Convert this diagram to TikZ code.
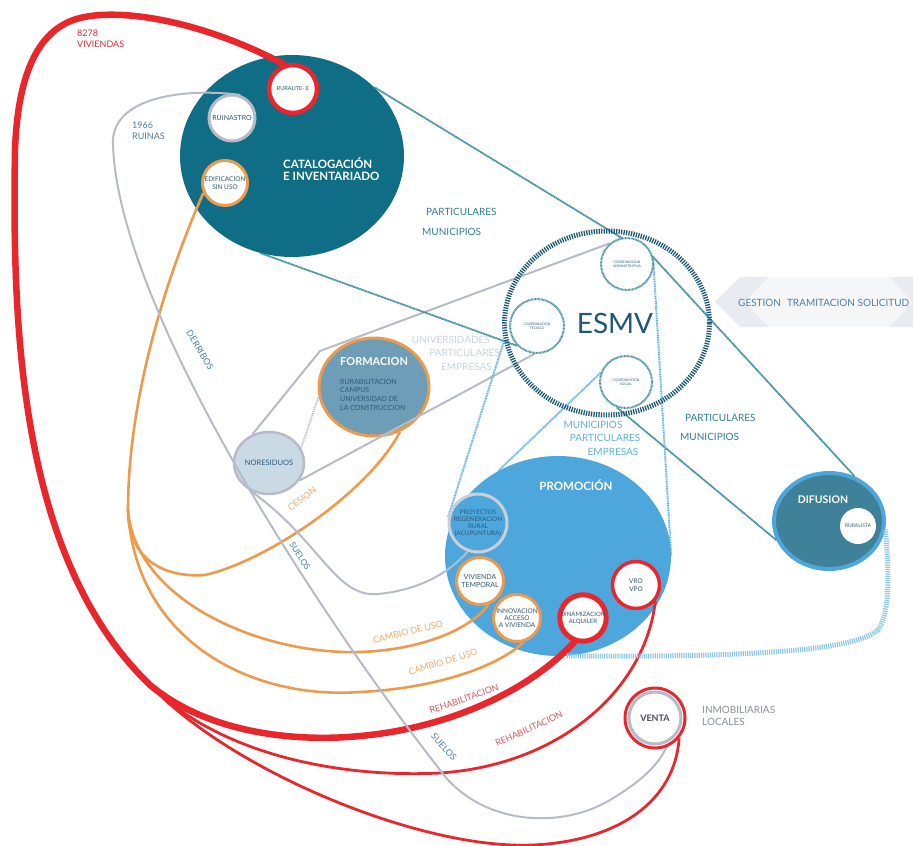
\documentclass[tikz,border=0pt]{standalone}
\usepackage{fontspec}
\setmainfont{Lato}
\usetikzlibrary{shapes.geometric}
\pgfdeclarelayer{back}
\pgfdeclarelayer{lines}
\pgfsetlayers{back,lines,main}
\newcommand{\myfs}[2]{\fontsize{#1}{#2}\selectfont}
\definecolor{catc}{HTML}{0F6E85}
\definecolor{redc}{HTML}{E8262C}
\definecolor{orc}{HTML}{EE9A4D}
\definecolor{orlab}{HTML}{F0A868}
\definecolor{redlab}{HTML}{E8505A}
\definecolor{grc}{HTML}{B7BBC7}
\definecolor{promc}{HTML}{4DA6DC}
\definecolor{difc}{HTML}{3E8199}
\definecolor{formc}{HTML}{6D9DB7}
\definecolor{norc}{HTML}{C9DAE4}
\definecolor{txtc}{HTML}{2C5B7A}
\definecolor{labc}{HTML}{4E7FA0}
\definecolor{esmvc}{HTML}{1E5874}
\definecolor{tealc}{HTML}{3C8C9E}
\definecolor{lbc}{HTML}{5DB0E2}
\definecolor{ropec}{HTML}{8CC6EA}
\definecolor{palec}{HTML}{C6D5E0}
\definecolor{labteal}{HTML}{2F7F96}
\definecolor{chevc}{HTML}{E8EBF0}
\definecolor{chevm}{HTML}{F5F6F8}
\definecolor{inmoc}{HTML}{8A8E99}
\definecolor{ventc}{HTML}{4A4E57}
\begin{document}
\begin{tikzpicture}[x=1pt,y=-1pt,
 bigell/.style={ellipse,inner sep=0pt},
 smc/.style={circle,inner sep=0pt,minimum size=#1,fill=white,text=txtc,align=center},
 coordc/.style={circle,inner sep=0pt,minimum size=#1,draw=tealc,line width=2pt,dash pattern=on 0.8pt off 0.6pt,fill=white,text=txtc,align=center,font=\myfs{3.4}{4.2}},
 redthick/.style={draw=redc,line width=6.5pt,line cap=round},
 redthin/.style={draw=redc,line width=2.8pt},
 orline/.style={draw=orc,line width=2.6pt},
 grline/.style={draw=grc,line width=2pt},
 tealline/.style={draw=tealc,line width=1.8pt,dash pattern=on 1.2pt off 0.5pt},
 lbline/.style={draw=lbc,line width=2pt,dash pattern=on 1pt off 0.7pt},
 rope/.style={draw=ropec,line width=5pt,dash pattern=on 1.2pt off 1pt},
 lab/.style={inner sep=0pt,font=\myfs{9}{11}},
 labb/.style={inner sep=0pt,font=\myfs{10}{12}},
]
\useasboundingbox (0,0) rectangle (913,846);

% ---------- background layer: band and big ellipses ----------
\begin{pgfonlayer}{back}
 \fill[chevm] (715,302) -- (740,277) -- (913,277) -- (913,327) -- (740,327) -- cycle;
 \fill[chevc] (715,302) -- (740,277) -- (768,277) -- (745,302) -- (768,327) -- (740,327) -- cycle;
 \fill[chevc] (890,277) -- (913,277) -- (913,327) -- (890,327) -- (912,302) -- cycle;
 \node[bigell,fill=catc,minimum width=224,minimum height=202] (cat) at (292,156) {};
 \node[bigell,fill=promc,minimum width=226,minimum height=200] (prom) at (558,556) {};
 \node[bigell,fill=formc,draw=orc,line width=3pt,minimum width=110,minimum height=98] (form) at (374,387) {};
 \node[bigell,fill=norc,draw=grc,line width=2.5pt,minimum width=70,minimum height=62,text=txtc,font=\myfs{7.5}{9}] (nor) at (269,463) {NORESIDUOS};
 \node[bigell,fill=difc,draw=promc,line width=4pt,minimum width=110,minimum height=96] (dif) at (829,521) {};
\end{pgfonlayer}

% ---------- nodes on main layer ----------
\node[bigell,draw=esmvc,line width=5pt,dash pattern=on 1.3pt off 1.2pt,minimum width=205,minimum height=184] (esmv) at (607,323) {};
\node[coordc=52] (cadm) at (627,264) {COORDINACION\\ADMINISTRATIVA};
\node[coordc=54] (ctec) at (537,326) {COORDINACION\\TECNICA};
\node[coordc=52] (csoc) at (626,382) {COORDINACION\\SOCIAL};
\node[text=esmvc,font=\myfs{28}{30},inner sep=0pt] (esmvt) at (615,323) {ESMV};

\node[smc=48,draw=redc,line width=4.5pt,font=\myfs{5.5}{6.5}] (rur) at (293,89) {RURALITE- E};
\node[smc=46,draw=grc,line width=3pt,font=\myfs{7}{8}] (rui) at (232,118) {RUINASTRO};
\node[smc=45,draw=orc,line width=3pt,font=\myfs{6.5}{7.5}] (edi) at (225,183) {EDIFICACION\\SIN USO};

\node[smc=58,fill=promc,draw=grc!70,line width=3pt,font=\myfs{6.3}{7}] (proy) at (478,523) {PROYECTOS\\REGENERACION\\RURAL\\(ACUPUNTURA)};
\node[smc=47,draw=orc,line width=3pt,font=\myfs{7}{8}] (viv) at (480,581) {VIVIENDA\\TEMPORAL};
\node[smc=47,draw=orc,line width=3pt,font=\myfs{6.5}{7.3}] (inn) at (517,618) {INNOVACION\\ACCESO\\A VIVIENDA};
\node[smc=46,draw=redc,line width=5pt,font=\myfs{6}{7}] (din) at (583,618) {DINAMIZACION\\ALQUILER};
\node[smc=47,draw=redc,line width=3.5pt,font=\myfs{6.5}{8}] (vro) at (636,585) {VRO\\VPO};

\node[smc=36,font=\myfs{5}{6}] (rsta) at (858,526) {RURALISTA};

\node[smc=60,draw=redc,line width=3pt] (ven) at (655,718) {};
\node[circle,inner sep=0pt,minimum size=52,draw=grc,line width=3pt,fill=white,text=ventc,font=\bfseries\myfs{9}{10}] (vent) at (655,718) {VENTA};

% ---------- connectors ----------
\coordinate (br) at (150,685);
\coordinate (ob) at (128,510);
\coordinate (gk) at (320,351);
\begin{pgfonlayer}{lines}
 % red
 \draw[redthick] (rur.110) .. controls (200,20) and (120,8) .. (80,18) .. controls (40,28) and (18,70) .. (15,150) .. controls (12,330) and (20,560) .. (150,685) .. controls (210,735) and (300,742) .. (360,736) .. controls (450,728) and (530,690) .. (din.250);
 \draw[redthin] (br) .. controls (220,755) and (340,778) .. (440,773) .. controls (560,765) and (645,690) .. (vro.320);
 \draw[redthin] (br) .. controls (230,770) and (420,850) .. (533,845) .. controls (620,841) and (675,800) .. (ven.320);
 % orange
 \draw[orline] (edi.205) .. controls (165,280) and (128,400) .. (ob);
 \draw[orline] (ob) .. controls (128,560) and (165,578) .. (205,575) .. controls (270,560) and (370,490) .. (form.300);
 \draw[orline] (ob) .. controls (135,600) and (260,655) .. (360,652) .. controls (420,650) and (470,630) .. (viv.290);
 \draw[orline] (ob) .. controls (135,640) and (250,700) .. (360,692) .. controls (440,688) and (500,665) .. (inn.285);
 % gray
 \draw[grline] (rui.70) .. controls (190,88) and (110,95) .. (113,145) .. controls (118,300) and (300,590) .. (440,770) .. controls (480,825) and (560,830) .. (610,800) .. controls (640,782) and (660,765) .. (vent.300);
 \draw[grline] (nor.235) .. controls (320,540) and (335,598) .. (378,594) .. controls (420,590) and (450,572) .. (proy.250);
 \draw[grline] (nor.120) -- (gk) -- (cadm.130);
 \draw[grline] (nor.330) -- (ctec.265);
 \draw[grline,dash pattern=on 1pt off 1pt] (nor.25) -- (form.190);
 % teal
 \draw[tealline] (cat.40) -- (cadm.15) -- (dif.60);
 \draw[tealline] (cat.252) -- (ctec.225);
 \draw[tealline] (csoc.250) -- (dif.200);
 % light blue
 \draw[lbline] (esmv.190) -- (proy.170);
 \draw[lbline] (csoc.160) -- (prom.125);
 \draw[lbline] (cadm.15) -- (prom.east);
 \draw[rope] (prom.275) .. controls (700,657) and (850,655) .. (878,630) .. controls (892,610) and (888,560) .. (dif.352);
\end{pgfonlayer}

% ---------- texts ----------
\node[inner sep=0pt,anchor=west,text=white,align=left,font=\bfseries\myfs{11.5}{12.5}] (catt) at (283,169) {CATALOGACIÓN\\E INVENTARIADO};
\node[inner sep=0pt,text=white,font=\bfseries\myfs{11.5}{13}] (promt) at (576,485) {PROMOCIÓN};
\node[inner sep=0pt,anchor=west,text=white,font=\bfseries\myfs{11}{13}] (formt) at (340,362) {FORMACION};
\node[inner sep=0pt,anchor=north west,text=txtc,align=left,font=\myfs{7}{8.7}] (forms) at (340,379) {RURABILITACION\\CAMPUS\\UNIVERSIDAD DE\\LA CONSTRUCCION};
\node[inner sep=0pt,text=white,font=\bfseries\myfs{10.5}{12}] (dift) at (823,500) {DIFUSION};

\node[lab,anchor=west,align=left,text=redc] (vivl) at (77,39) {8278\\VIVIENDAS};
\node[lab,anchor=west,align=left,text=labc] (ruil) at (132,131) {1966\\RUINAS};
\node[labb,anchor=west,text=labteal] (p1) at (426,212) {PARTICULARES};
\node[labb,anchor=west,text=labteal] (m1) at (422,232) {MUNICIPIOS};
\node[labb,anchor=east,text=palec] (u2) at (490,340) {UNIVERSIDADES};
\node[labb,anchor=east,text=palec] (p2) at (500,353) {PARTICULARES};
\node[labb,anchor=east,text=palec] (e2) at (492,367) {EMPRESAS};
\node[labb,text=lbc] (m3) at (593,425) {MUNICIPIOS};
\node[labb,text=lbc] (p3) at (605,438) {PARTICULARES};
\node[labb,text=lbc] (e3) at (613,452) {EMPRESAS};
\node[labb,anchor=west,text=labteal] (p4) at (685,418) {PARTICULARES};
\node[labb,anchor=west,text=labteal] (m4) at (680,437) {MUNICIPIOS};
\node[labb,anchor=west,text=labc] (gest) at (738,303) {GESTION\hspace{6pt}TRAMITACION SOLICITUD};
\node[labb,anchor=west,align=left,text=inmoc] (inmo) at (702,716) {INMOBILIARIAS\\LOCALES};

\node[lab,text=labc,rotate=-59] (derr) at (200,350) {DERRIBOS};
\node[lab,text=orlab,rotate=37] (ces) at (302,499) {CESION};
\node[lab,text=labc,rotate=-58,font=\myfs{8.5}{10}] (sue1) at (300,556) {SUELOS};
\node[lab,text=labc,rotate=-48] (sue2) at (444,747) {SUELOS};
\node[lab,text=orlab,rotate=14] (cam1) at (408,632) {CAMBIO DE USO};
\node[lab,text=orlab,rotate=17] (cam2) at (443,662) {CAMBIO DE USO};
\node[lab,text=redlab,rotate=19] (reh1) at (464,699) {REHABILITACION};
\node[lab,text=redlab,rotate=24] (reh2) at (529,729) {REHABILITACION};
\end{tikzpicture}
\end{document}
